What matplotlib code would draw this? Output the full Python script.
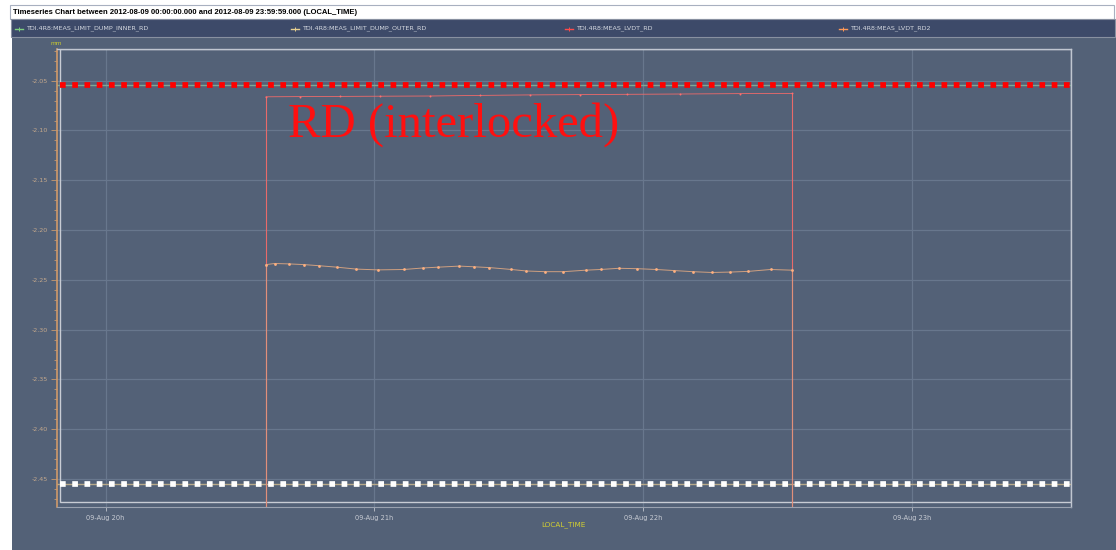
import matplotlib
matplotlib.use("Agg")
import matplotlib.pyplot as plt
import matplotlib.patches as mpatches
from matplotlib.ticker import MultipleLocator, FuncFormatter

# series names shown in the legend band
series_names = ["TDI.4R8:MEAS_LIMIT_DUMP_INNER_RD", "TDI.4R8:MEAS_LIMIT_DUMP_OUTER_RD",
                "TDI.4R8:MEAS_LVDT_RD", "TDI.4R8:MEAS_LVDT_RD2"]
series_colors = ["#7fd07f", "#e8d090", "#ff4a4a", "#ff9a58"]

# limit values (mm)
inner_limit = -2.054
outer_limit = -2.455

# LVDT_RD readings
rd_times = ["20:35:48", "20:43:24", "20:52:18", "21:01:18", "21:12:24", "21:23:36",
            "21:34:42", "21:45:54", "21:56:24", "22:08:12", "22:21:36", "22:33:18"]
rd_values = [-2.0662, -2.0660, -2.0658, -2.0656, -2.0654, -2.0648,
             -2.0643, -2.0640, -2.0637, -2.0634, -2.0630, -2.0628]

# LVDT_RD2 readings
rd2_times = ["20:35:48", "20:37:42", "20:41:00", "20:44:18", "20:47:36", "20:51:42",
             "20:55:54", "21:00:48", "21:06:36", "21:10:48", "21:14:06", "21:19:00",
             "21:22:18", "21:25:42", "21:30:36", "21:33:54", "21:38:06", "21:42:12",
             "21:47:12", "21:50:30", "21:54:36", "21:58:42", "22:02:54", "22:07:00",
             "22:11:06", "22:15:18", "22:19:24", "22:23:30", "22:28:30", "22:33:18"]
rd2_values = [-2.2347, -2.2336, -2.2340, -2.2347, -2.2358, -2.2373,
              -2.2392, -2.2400, -2.2396, -2.2381, -2.2373, -2.2362,
              -2.2369, -2.2377, -2.2396, -2.2411, -2.2418, -2.2418,
              -2.2403, -2.2396, -2.2384, -2.2388, -2.2396, -2.2407,
              -2.2418, -2.2426, -2.2422, -2.2415, -2.2396, -2.2403]

hour_ticks = [20, 21, 22, 23]
hour_labels = ["09-Aug 20h", "09-Aug 21h", "09-Aug 22h", "09-Aug 23h"]

title = "Timeseries Chart between 2012-08-09 00:00:00.000 and 2012-08-09 23:59:59.000 (LOCAL_TIME)"


def to_hours(ts):
    out = []
    for t in ts:
        h, m, s = t.split(":")
        out.append(int(h) + int(m) / 60 + int(s) / 3600)
    return out


W, H = 1116, 550
fig = plt.figure(figsize=(W / 100, H / 100), dpi=100)
fig.patch.set_facecolor("white")


def box(x0, y0, x1, y1, **kw):
    # pixel box -> figure fraction (y from top)
    r = mpatches.Rectangle((x0 / W, 1 - y1 / H), (x1 - x0) / W, (y1 - y0) / H,
                           transform=fig.transFigure, zorder=-5, **kw)
    fig.patches.append(r)


bg = "#536177"
box(12, 37, 1116, 550, facecolor=bg, edgecolor="none")
box(10, 5, 1114, 19, facecolor="white", edgecolor="#a8b0c0", lw=0.8)
box(11, 19, 1115, 37, facecolor="#3d4a69", edgecolor="#8890a0", lw=0.8)

fig.text(13 / W, 1 - 12.5 / H, title, fontsize=5.5, fontweight="bold",
         family="Liberation Sans", va="center", ha="left", color="black")

# legend band
leg_x = [15, 291, 565, 839]
for x, name, c in zip(leg_x, series_names, series_colors):
    y = 1 - 28.5 / H
    fig.lines.append(plt.Line2D([x / W, (x + 8) / W], [y, y], transform=fig.transFigure,
                                color=c, lw=1.0))
    fig.lines.append(plt.Line2D([(x + 4) / W], [y], transform=fig.transFigure, color=c,
                                marker="+", ms=2.5, mew=0.7))
    fig.text((x + 11) / W, y, name, fontsize=4.6, color="#d4d8e0", va="center", ha="left")

ax = fig.add_axes([56.7 / W, 1 - 506.7 / H, (1071.3 - 56.7) / W, (506.7 - 49.3) / H])
ax.set_facecolor(bg)
ax.set_xlim(19.8177, 23.5935)
ax.set_ylim(-2.4778, -2.0185)

ax.yaxis.set_major_locator(MultipleLocator(0.05))
ax.yaxis.set_minor_locator(MultipleLocator(0.01))
ax.yaxis.set_major_formatter(FuncFormatter(lambda v, p: "%.2f" % v))
ax.set_xticks(hour_ticks)
ax.set_xticklabels(hour_labels)

ax.grid(True, which="major", color="#68778d", lw=0.9)
ax.set_axisbelow(True)

ax.tick_params(axis="y", which="major", length=4, width=0.6, color="#c89a70",
               labelsize=4.6, labelcolor="#c4a88c", pad=2)
ax.tick_params(axis="y", which="minor", length=2, width=0.6, color="#c89a70")
ax.tick_params(axis="x", length=3, width=0.6, color="#c0c4cc", labelsize=4.8,
               labelcolor="#c8ccd4", pad=3)

for s in ["top", "right"]:
    ax.spines[s].set_color("#c0c6d0")
    ax.spines[s].set_linewidth(1.0)
ax.spines["bottom"].set_color("#9aa2b0")
ax.spines["bottom"].set_linewidth(0.8)
ax.spines["left"].set_color("#d09a6a")
ax.spines["left"].set_linewidth(1.2)

# inner frame of the plot area
ax.add_patch(mpatches.Rectangle((3 / 1014.6, 4.4 / 457.4), 1 - 3 / 1014.6, 1 - 4.4 / 457.4,
                                transform=ax.transAxes, fill=False, edgecolor="#c8ccd4",
                                lw=1.0))

# limit series
ax.axhline(inner_limit, color="#7fa893", lw=1.0)
ax.axhline(outer_limit, color="#b8aa8a", lw=1.0)

# LVDT series (vertical jumps at the ends go off the bottom of the scale)
rd_t = to_hours(rd_times)
rd2_t = to_hours(rd2_times)
ymin = ax.get_ylim()[0]
ax.vlines([rd_t[0], rd_t[-1]], ymin, [rd_values[0], rd_values[-1]], color="#e86a6a", lw=0.8)
ax.vlines([rd2_t[0], rd2_t[-1]], ymin, [rd2_values[0], rd2_values[-1]], color="#e0907a",
          lw=0.8)
ax.plot(rd_t, rd_values, color="#f06a6a", lw=0.6, marker="o", ms=1.4, mew=0,
        markerfacecolor="#ff7070")
ax.plot(rd2_t, rd2_values, color="#d0a080", lw=0.7, marker="o", ms=2.0, mew=0,
        markerfacecolor="#ffb080")

# highlighted limits (square-dot overlays)
ax.axhline(inner_limit, xmin=0.003, xmax=1.002, color="#ff0000", lw=4.1,
           linestyle=(0, (1, 1.15)), dash_capstyle="butt", clip_on=False)
ax.axhline(outer_limit, xmin=0.003, xmax=1.002, color="white", lw=4.1,
           linestyle=(0, (1, 1.15)), dash_capstyle="butt", clip_on=False)

ax.text(20.678, -2.1065, "RD (interlocked)", color="#ff1010", fontsize=35,
        family="Liberation Serif", va="baseline", ha="left")

fig.text(56 / W, 1 - 43.5 / H, "mm", fontsize=4.2, color="#c8c830", ha="center", va="center")
fig.text(563 / W, 1 - 525 / H, "LOCAL_TIME", fontsize=5.2, color="#d4d030", ha="center",
         va="center")

fig.savefig("out.png", dpi=100, facecolor=fig.get_facecolor())
